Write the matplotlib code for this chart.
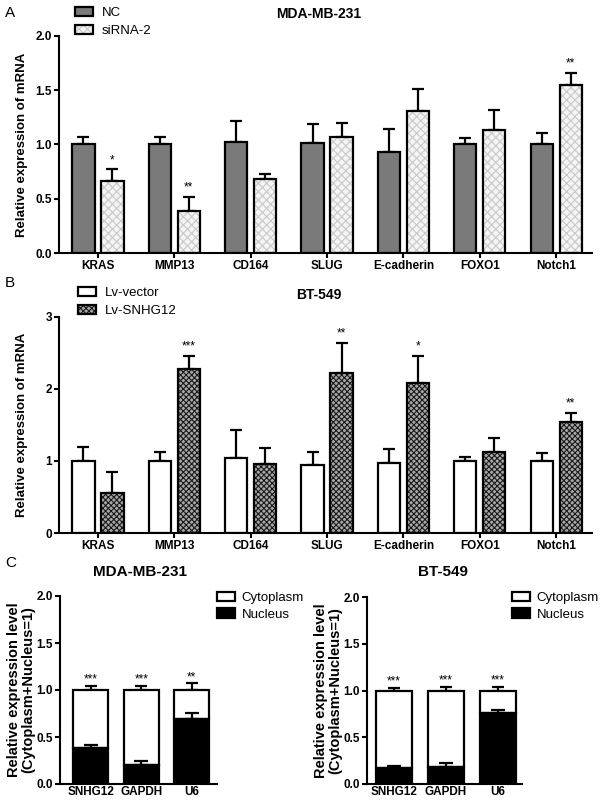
import matplotlib
matplotlib.use('Agg')
import matplotlib.pyplot as plt
from matplotlib.patches import Patch
from matplotlib.legend_handler import HandlerTuple

plt.rcParams['font.family'] = ['Liberation Sans', 'DejaVu Sans']
plt.rcParams['hatch.linewidth'] = 0.8
plt.rcParams['axes.linewidth'] = 1.5

# panel A / B data
genes = ['KRAS', 'MMP13', 'CD164', 'SLUG', 'E-cadherin', 'FOXO1', 'Notch1']

nc_a = [1.00, 1.00, 1.02, 1.01, 0.93, 1.00, 1.005]
nc_a_err = [0.07, 0.07, 0.20, 0.18, 0.21, 0.06, 0.105]
si_a = [0.66, 0.39, 0.68, 1.07, 1.31, 1.13, 1.545]
si_a_err = [0.11, 0.125, 0.05, 0.13, 0.205, 0.19, 0.115]
si_a_sig = ['*', '**', '', '', '', '', '**']

vec_b = [1.005, 1.00, 1.04, 0.94, 0.965, 1.00, 1.00]
vec_b_err = [0.185, 0.12, 0.39, 0.18, 0.205, 0.055, 0.11]
lv_b = [0.56, 2.28, 0.955, 2.22, 2.08, 1.13, 1.545]
lv_b_err = [0.28, 0.18, 0.22, 0.42, 0.38, 0.19, 0.115]
lv_b_sig = ['', '***', '', '**', '*', '', '**']

# panel C data
fractions = ['SNHG12', 'GAPDH', 'U6']
nuc_mda = [0.38, 0.20, 0.69]
nuc_mda_err = [0.03, 0.04, 0.07]
tot_mda_err = [0.045, 0.045, 0.07]
sig_mda = ['***', '***', '**']

nuc_bt = [0.17, 0.18, 0.755]
nuc_bt_err = [0.02, 0.04, 0.035]
tot_bt_err = [0.03, 0.04, 0.04]
sig_bt = ['***', '***', '***']

W = 0.29
OFF = 0.19
HT = {tuple: HandlerTuple(ndivide=1, pad=0)}


def hbar(ax, x, h, face, hatch=None, hcol=None, w=W, bottom=0):
    # fill (with hatch drawn in hcol) then a black outline on top
    ax.bar(x, h, w, bottom=bottom, color=face, hatch=hatch,
           edgecolor=hcol if hatch else face, linewidth=0, zorder=2)
    ax.bar(x, h, w, bottom=bottom, fill=False, edgecolor='black', linewidth=1.6, zorder=3)


def up_err(ax, x, top, err):
    ax.errorbar(x, top, yerr=[[0] * len(err), err], fmt='none', ecolor='black',
                elinewidth=1.6, capsize=4.5, capthick=1.6, zorder=1)


def stars(ax, x, top, err, sig, pad, fs=8.5):
    for xi, t, e, s in zip(x, top, err, sig):
        if s:
            ax.text(xi, t + e + pad, s, ha='center', va='bottom', fontsize=fs)


def style(ax, fs):
    for s in ['top', 'right']:
        ax.spines[s].set_visible(False)
    ax.tick_params(width=1.5, length=3.6, pad=1.5, labelsize=fs)
    for lab in ax.get_xticklabels() + ax.get_yticklabels():
        lab.set_fontweight('bold')


def key(face, hatch=None, hcol=None):
    fill = Patch(facecolor=face, edgecolor=hcol if hatch else face, hatch=hatch, lw=0)
    return (fill, Patch(fill=False, edgecolor='black', lw=1.6))


fig = plt.figure(figsize=(6, 8.08), dpi=100)
idx = list(range(len(genes)))
xl = [i - OFF for i in idx]
xr = [i + OFF for i in idx]
XL = (-0.51, 6.47)

# ---- A
axA = fig.add_axes([59 / 600, 1 - 253 / 808, 533 / 600, 217 / 808])
up_err(axA, xl, nc_a, nc_a_err)
up_err(axA, xr, si_a, si_a_err)
hbar(axA, xl, nc_a, '#7a7a7a')
hbar(axA, xr, si_a, '#f4f4f4', 'xxxx', '#c8c8c8')
stars(axA, xr, si_a, si_a_err, si_a_sig, 0.03)
axA.set_xlim(*XL)
axA.set_ylim(0, 2.0)
axA.set_yticks([0, 0.5, 1.0, 1.5, 2.0])
axA.set_yticklabels(['0.0', '0.5', '1.0', '1.5', '2.0'])
axA.set_xticks(idx)
axA.set_xticklabels(genes)
axA.set_ylabel('Relative expression of mRNA', fontsize=9.5, fontweight='bold')
axA.yaxis.set_label_coords(-0.058, 0.5)
style(axA, 8.5)
axA.set_title('MDA-MB-231', fontsize=10, fontweight='bold', x=(319 - 59) / 533, y=1.045)
fig.legend([key('#7a7a7a'), key('#f4f4f4', 'xxxx', '#c8c8c8')], ['NC', 'siRNA-2'],
           loc='upper left', bbox_to_anchor=(75 / 600, 1 - 7 / 808),
           frameon=False, fontsize=9.5, handlelength=1.4, handleheight=0.65, handletextpad=0.6,
           labelspacing=0.45, borderpad=0, borderaxespad=0, handler_map=HT)
fig.text(5 / 600, 1 - 13 / 808, 'A', fontsize=11, va='center')

# ---- B
axB = fig.add_axes([59 / 600, 1 - 533 / 808, 533 / 600, 216.3 / 808])
up_err(axB, xl, vec_b, vec_b_err)
up_err(axB, xr, lv_b, lv_b_err)
hbar(axB, xl, vec_b, 'white')
hbar(axB, xr, lv_b, '#a8a8a8', 'xxxxxx', '#1a1a1a')
stars(axB, xr, lv_b, lv_b_err, lv_b_sig, 0.05)
axB.set_xlim(*XL)
axB.set_ylim(0, 3)
axB.set_yticks([0, 1, 2, 3])
axB.set_xticks(idx)
axB.set_xticklabels(genes)
axB.set_ylabel('Relative expression of mRNA', fontsize=9.5, fontweight='bold')
axB.yaxis.set_label_coords(-0.058, 0.5)
style(axB, 8.5)
axB.set_title('BT-549', fontsize=10, fontweight='bold', x=(319 - 59) / 533, y=1.045)
fig.legend([key('white'), key('#a8a8a8', 'xxxxxx', '#1a1a1a')], ['Lv-vector', 'Lv-SNHG12'],
           loc='upper left', bbox_to_anchor=(78 / 600, 1 - 287 / 808),
           frameon=False, fontsize=9.5, handlelength=1.4, handleheight=0.65, handletextpad=0.6,
           labelspacing=0.45, borderpad=0, borderaxespad=0, handler_map=HT)
fig.text(5 / 600, 1 - 283 / 808, 'B', fontsize=11, va='center')


# ---- C
def panel_c(rect, nuc, nuc_err, tot_err, sig, title, title_x, lab_x, xlim, leg_anchor):
    ax = fig.add_axes(rect)
    x = list(range(len(fractions)))
    cyto = [1 - n for n in nuc]
    tot = [1.0] * len(nuc)
    up_err(ax, x, tot, tot_err)
    hbar(ax, x, cyto, 'white', w=0.69, bottom=nuc)
    ax.errorbar(x, nuc, yerr=[[0] * len(nuc), nuc_err], fmt='none', ecolor='black',
                elinewidth=1.6, capsize=5, capthick=1.6, zorder=4)
    hbar(ax, x, nuc, 'black', w=0.69)
    stars(ax, x, tot, tot_err, sig, 0.0)
    ax.set_xlim(*xlim)
    ax.set_ylim(0, 2.0)
    ax.set_yticks([0, 0.5, 1.0, 1.5, 2.0])
    ax.set_yticklabels(['0.0', '0.5', '1.0', '1.5', '2.0'])
    ax.set_xticks(x)
    ax.set_xticklabels(fractions)
    ax.set_ylabel('Relative expression level\n(Cytoplasm+Nucleus=1)', fontsize=10.5,
                  fontweight='bold', linespacing=1.0)
    ax.yaxis.set_label_coords(lab_x, 0.5)
    style(ax, 8.5)
    ax.tick_params(axis='x', length=0)
    fig.text(title_x / 600, 1 - 572 / 808, title, fontsize=11, fontweight='bold',
             ha='center', va='center')
    fig.legend([key('white'), key('black')], ['Cytoplasm', 'Nucleus'],
               loc='upper left', bbox_to_anchor=leg_anchor,
               frameon=False, fontsize=9.5, handlelength=1.36, handleheight=0.72, handletextpad=0.5,
               labelspacing=0.3, borderpad=0, borderaxespad=0, handler_map=HT)
    return ax


panel_c([60 / 600, 1 - 784 / 808, 157 / 600, 188 / 808], nuc_mda, nuc_mda_err, tot_mda_err,
        sig_mda, 'MDA-MB-231', 140, -0.16, (-0.61, 2.5), (217 / 600, 1 - 592 / 808))
panel_c([367 / 600, 1 - 784 / 808, 155 / 600, 187 / 808], nuc_bt, nuc_bt_err, tot_bt_err,
        sig_bt, 'BT-549', 443, -0.16, (-0.52, 2.47), (512 / 600, 1 - 592 / 808))
fig.text(5 / 600, 1 - 563 / 808, 'C', fontsize=11, va='center')

fig.savefig('out.png', dpi=100)
